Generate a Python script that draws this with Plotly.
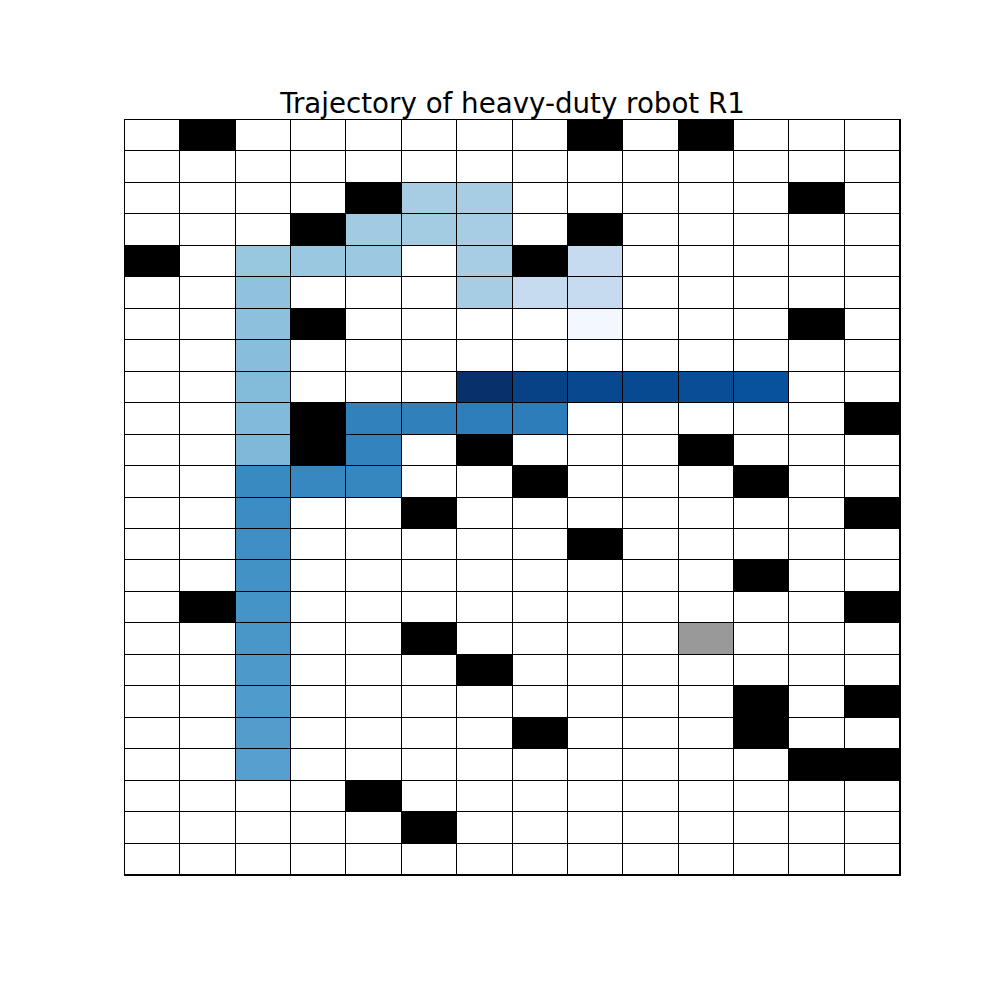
import numpy as np
import plotly.graph_objects as go

N_ROWS = 24
N_COLS = 14
TITLE = "Trajectory of heavy-duty robot R1"

# obstacle cells (row from top, column from left)
obstacle_rows = [0, 0, 0, 2, 2, 3, 3, 4, 4, 6, 6, 9, 9, 10, 10, 10, 11, 11, 12, 12,
                 13, 14, 15, 15, 16, 17, 18, 18, 19, 19, 20, 20, 21, 22]
obstacle_cols = [1, 8, 10, 4, 12, 3, 8, 0, 7, 3, 12, 3, 13, 3, 6, 10, 7, 11, 5, 13,
                 8, 11, 1, 13, 5, 6, 11, 13, 7, 11, 12, 13, 4, 5]

# marker cell shown in grey
grey_rows = [16]
grey_cols = [10]

# trajectory cells and their (normalised) visit value
traj_rows = [6, 5, 4, 5, 5, 4, 3, 2, 2, 3, 3, 4, 4, 4,
             5, 6, 7, 8, 9, 10,
             20, 19, 18, 17, 16, 15, 14, 13, 12, 11,
             11, 11, 10, 9, 9, 9, 9,
             8, 8, 8, 8, 8, 8]
traj_cols = [8, 8, 8, 7, 6, 6, 6, 6, 5, 5, 4, 4, 3, 2,
             2, 2, 2, 2, 2, 2,
             2, 2, 2, 2, 2, 2, 2, 2, 2, 2,
             3, 4, 4, 4, 5, 6, 7,
             11, 10, 9, 8, 7, 6]
traj_vals = [0.02, 0.25, 0.25, 0.25, 0.35, 0.35, 0.35, 0.35, 0.35, 0.36, 0.37, 0.38, 0.385, 0.39,
             0.41, 0.42, 0.43, 0.44, 0.445, 0.45,
             0.565, 0.575, 0.585, 0.595, 0.605, 0.615, 0.625, 0.635, 0.645, 0.655,
             0.665, 0.67, 0.68, 0.69, 0.695, 0.70, 0.705,
             0.875, 0.89, 0.90, 0.91, 0.93, 1.0]

BLUES = [[0.0, "#f7fbff"], [0.125, "#deebf7"], [0.25, "#c6dbef"], [0.375, "#9ecae1"],
         [0.5, "#6baed6"], [0.625, "#4292c6"], [0.75, "#2171b5"], [0.875, "#08519c"],
         [1.0, "#08306b"]]


def grid_from(rows, cols, vals):
    z = np.full((N_ROWS, N_COLS), np.nan)
    for r, c, v in zip(rows, cols, vals):
        z[r, c] = v
    return z


xs = list(range(N_COLS))
ys = list(range(N_ROWS))

base = np.ones((N_ROWS, N_COLS))
traj = grid_from(traj_rows, traj_cols, traj_vals)
obst = grid_from(obstacle_rows, obstacle_cols, [1] * len(obstacle_rows))
grey = grid_from(grey_rows, grey_cols, [1] * len(grey_rows))

common = dict(x=xs, y=ys, xgap=1, ygap=1, showscale=False, hoverinfo="skip")

fig = go.Figure()
fig.add_trace(go.Heatmap(z=base, colorscale=[[0, "white"], [1, "white"]], zmin=0, zmax=1, **common))
fig.add_trace(go.Heatmap(z=traj, colorscale=BLUES, zmin=0, zmax=1, **common))
fig.add_trace(go.Heatmap(z=obst, colorscale=[[0, "black"], [1, "black"]], zmin=0, zmax=1, **common))
fig.add_trace(go.Heatmap(z=grey, colorscale=[[0, "#999999"], [1, "#999999"]], zmin=0, zmax=1, **common))

axis_style = dict(showgrid=False, zeroline=False, showticklabels=False, ticks="",
                  showline=True, linecolor="black", linewidth=1, mirror=True)

fig.update_layout(
    width=1000, height=1000,
    margin=dict(l=125, r=100, t=120, b=125),
    paper_bgcolor="white",
    plot_bgcolor="black",
    font=dict(family="DejaVu Sans", color="black"),
    title=dict(text=TITLE, x=0.5125, xanchor="center", y=0.897, yanchor="middle",
               font=dict(size=27.7, family="DejaVu Sans", color="black")),
    xaxis=dict(range=[-0.5, N_COLS - 0.5], **axis_style),
    yaxis=dict(range=[N_ROWS - 0.5, -0.5], **axis_style),
    showlegend=False,
)

fig.write_html("out.html", config={"displayModeBar": False},
               post_script="document.body.style.margin='0';")
